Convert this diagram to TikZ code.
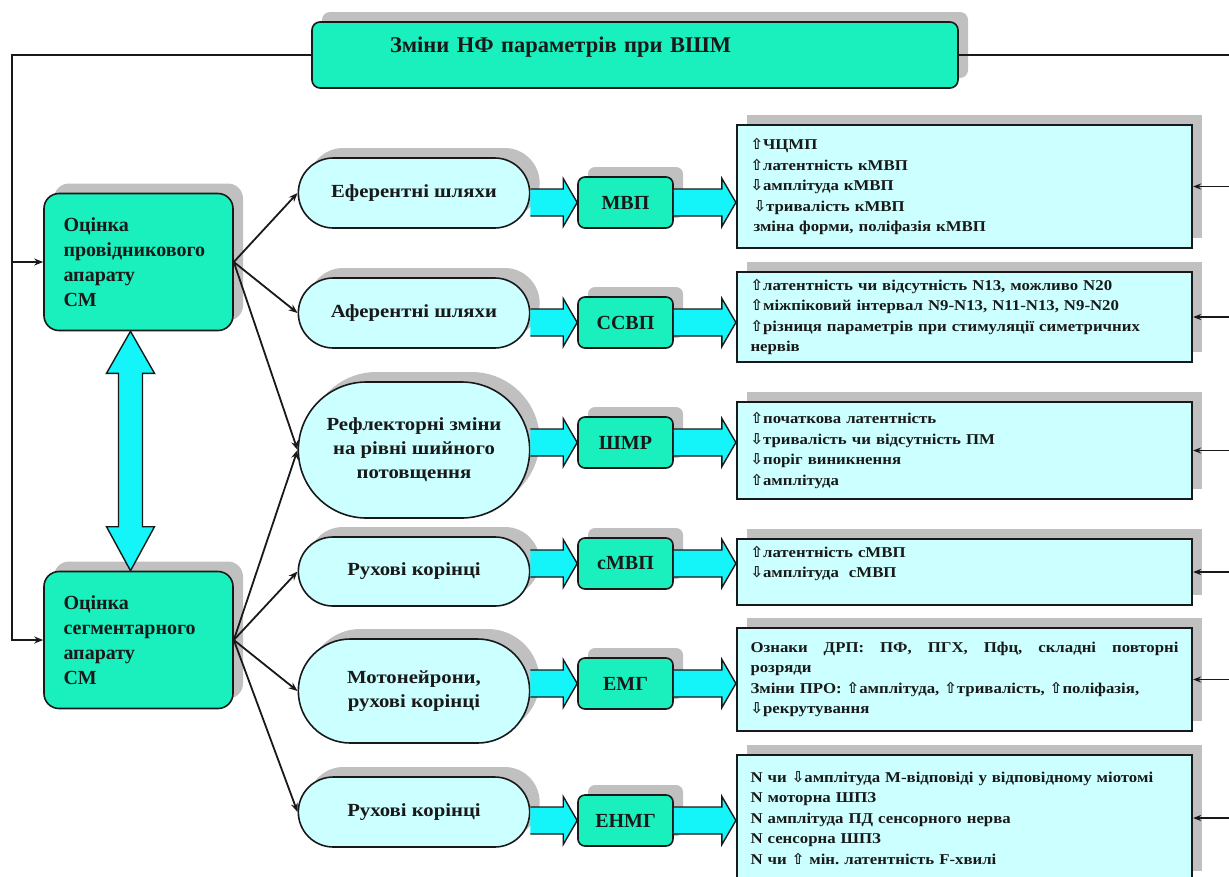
\documentclass[tikz,border=0pt]{standalone}
\usepackage{fontspec}
\setmainfont{Liberation Serif}
\newfontfamily\boxfont{Liberation Serif}[FakeStretch=1.12]
\newfontfamily\arrfont{DejaVu Sans}
\usetikzlibrary{arrows.meta, shapes.misc, shadows, calc}

\definecolor{mint}{RGB}{26,240,190}
\definecolor{palecyan}{RGB}{204,255,255}
\definecolor{fatcyan}{RGB}{20,245,250}
\definecolor{shadowgray}{RGB}{192,192,192}
\definecolor{ink}{RGB}{25,25,25}

\newcommand{\arrup}{{\arrfont ⇧}}
\newcommand{\arrdn}{{\arrfont ⇩}}

\tikzset{
    shadowed/.style={drop shadow={shadow xshift=10pt, shadow yshift=10pt, fill=shadowgray, opacity=1}},
    titlebox/.style={draw=ink, line width=1.6pt, fill=mint, rounded corners=8pt, minimum height=66pt,
        text width=490pt, inner xsep=78pt, align=left, text depth=20pt, text=ink,
        font=\bfseries\fontsize{22.5}{26}\selectfont, shadowed},
    evalbox/.style={draw=ink, line width=1.6pt, fill=mint, rounded corners=15pt, minimum height=137pt,
        text width=150pt, inner xsep=19.5pt, align=left, text=ink,
        font=\bfseries\fontsize{20}{25}\selectfont, shadowed},
    pathoval/.style={rounded rectangle, draw=ink, line width=1.6pt, fill=palecyan, minimum width=238pt,
        align=center, text=ink, font=\boxfont\bfseries\fontsize{18.5}{24}\selectfont, shadowed},
    testbox/.style={draw=ink, line width=1.6pt, fill=mint, rounded corners=7pt, minimum width=95pt,
        minimum height=51pt, text=ink, font=\bfseries\fontsize{20}{22}\selectfont, shadowed},
    findbox/.style={draw=ink, line width=2.2pt, fill=palecyan, text width=428pt, inner xsep=13.5pt,
        align=left, text=ink, font=\boxfont\bfseries\fontsize{15}{20.5}\selectfont, shadowed},
    link/.style={draw=ink, line width=1.8pt, -{Stealth[length=9pt, width=7pt]}},
    feed/.style={draw=ink, line width=2.2pt},
    fatline/.style={draw=ink, line width=1.4pt, line join=miter}
}

\newcommand{\fatarrow}[2]{%
    \fill[fatcyan] ($(#1)+(0,-13.5)$) -- ($(#2)+(-14,-13.5)$) -- ($(#2)+(-14,-24)$) -- (#2)
        -- ($(#2)+(-14,24)$) -- ($(#2)+(-14,13.5)$) -- ($(#1)+(0,13.5)$) -- cycle;
    \draw[fatline] ($(#1)+(0,-13.5)$) -- ($(#2)+(-14,-13.5)$) -- ($(#2)+(-14,-24)$) -- (#2)
        -- ($(#2)+(-14,24)$) -- ($(#2)+(-14,13.5)$) -- ($(#1)+(0,13.5)$);
}

\begin{document}
\frenchspacing
\begin{tikzpicture}[x=1pt, y=-1pt]
    \useasboundingbox (0,0) rectangle (1229,876);
    \clip (0,0) rectangle (1229,876);

    \node[titlebox] (top) at (635,55) {Зміни НФ параметрів при ВШМ};

    \node[evalbox] (L1) at (138.5,262) {Оцінка\\провідникового\\апарату\\СМ};
    \node[evalbox] (L2) at (138.5,640) {Оцінка\\сегментарного\\апарату\\СМ};

    \node[pathoval, minimum height=70pt] (o1) at (414,193) {Еферентні шляхи};
    \node[pathoval, minimum height=70pt] (o2) at (414,313) {Аферентні шляхи};
    \node[pathoval, minimum height=136pt] (o3) at (414,450) {Рефлекторні зміни\\на рівні шийного\\потовщення};
    \node[pathoval, minimum height=69pt] (o4) at (414,571.5) {Рухові корінці};
    \node[pathoval, minimum height=104pt] (o5) at (414,691) {Мотонейрони,\\рухові корінці};
    \node[pathoval, minimum height=70pt] (o6) at (414,812) {Рухові корінці};

    \node[testbox] (m1) at (625.5,202.5) {МВП};
    \node[testbox] (m2) at (625.5,322.5) {ССВП};
    \node[testbox] (m3) at (625.5,442.5) {ШМР};
    \node[testbox] (m4) at (625.5,563.5) {сМВП};
    \node[testbox] (m5) at (625.5,683.5) {ЕМГ};
    \node[testbox] (m6) at (625.5,820.5) {ЕНМГ};

    \node[findbox, minimum height=123pt] (r1) at (964.5,186.5) {\arrup ЧЦМП\\\arrup латентність кМВП\\\arrdn амплітуда кМВП\\\hspace*{3pt}\arrdn тривалість кМВП\\\hspace*{3pt}зміна форми, поліфазія кМВП};
    \node[findbox, minimum height=90pt] (r2) at (964.5,317) {\arrup латентність чи відсутність N13, можливо N20\\\arrup міжпіковий інтервал N9-N13, N11-N13, N9-N20\\\arrup різниця параметрів при стимуляції симетричних\\нервів};
    \node[findbox, minimum height=97pt] (r3) at (964.5,450.5) {\arrup початкова латентність\\\arrdn тривалість чи відсутність ПМ\\\arrdn поріг виникнення\\\arrup амплітуда};
    \node[findbox, minimum height=66pt] (r4) at (964.5,572) {\arrup латентність сМВП\\\arrdn амплітуда\ \ сМВП\\\mbox{}};
    \node[findbox, minimum height=103pt] (r5) at (964.5,679.5) {\hbox to 428pt{Ознаки\hfill ДРП:\hfill ПФ,\hfill ПГХ,\hfill Пфц,\hfill складні\hfill повторні}\\розряди\\Зміни ПРО: \arrup амплітуда, \arrup тривалість, \arrup поліфазія,\\\arrdn рекрутування};
    \node[findbox, minimum height=126pt] (r6) at (964.5,818) {N чи \arrdn амплітуда М-відповіді у відповідному міотомі\\N моторна ШПЗ\\N амплітуда ПД сенсорного нерва\\N сенсорна ШПЗ\\N чи \arrup\ мін. латентність F-хвилі};

    \foreach \o in {o1,o2,o3}
        \draw[link] (L1.east) -- (\o.west);
    \foreach \o in {o3,o4,o5,o6}
        \draw[link] (L2.east) -- (\o.west);

    \foreach \i in {1,...,6} {
        \fatarrow{o\i.east |- m\i.west}{m\i.west}
        \fatarrow{m\i.east}{r\i.west |- m\i.east}
    }

    \coordinate (dtop) at ([xshift=-8pt]L1.south);
    \coordinate (dbot) at ([xshift=-8pt]L2.north);
    \draw[fatline, fill=fatcyan] (dtop) -- ++(24,42) -- ++(-12,0) -- ($(dbot)+(12,-44)$) -- ++(12,0) -- (dbot)
        -- ++(-24,-44) -- ++(12,0) -- ($(dtop)+(-12,42)$) -- ++(-12,0) -- cycle;

    \draw[feed, -{Stealth[length=9pt, width=7pt]}] (top.west) -| ([xshift=-31pt]L2.west) -- (L2.west);
    \draw[link] ([xshift=-31pt]L1.west) -- (L1.west);

    \coordinate (fbr) at (1240,55);
    \draw[feed] (top.east) -- (fbr);
    \foreach \r in {r1,r2,r3,r4,r5,r6}
        \draw[draw=ink, line width=1.4pt, -{Stealth[length=8pt, width=6pt]}] (fbr |- \r.east) -- (\r.east);
\end{tikzpicture}
\end{document}
